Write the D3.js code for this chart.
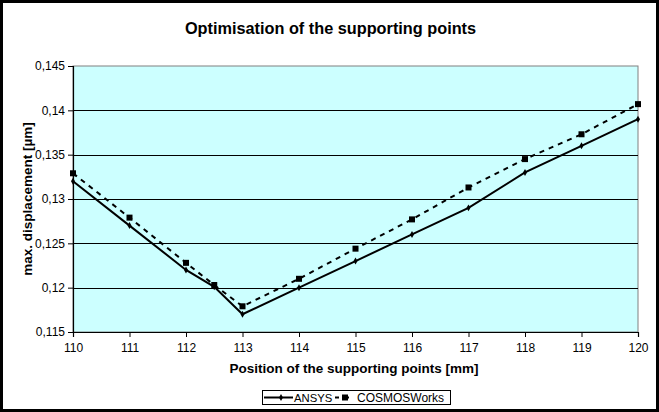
<!DOCTYPE html>
<html>
<head>
<meta charset="utf-8">
<script src="https://cdn.jsdelivr.net/npm/d3@7"></script>
<style>
  body { margin: 0; background: #fff; }
  text { font-family: Arial, "Liberation Sans", sans-serif; fill: #000; }
</style>
</head>
<body>
<svg id="chart" width="659" height="412"></svg>
<script>
const positions = [110, 111, 112, 112.5, 113, 114, 115, 116, 117, 118, 119, 120]
const ansys = [0.132, 0.127, 0.122, 0.1201, 0.117, 0.120, 0.123, 0.126, 0.129, 0.133, 0.136, 0.139]
const cosmos = [0.1329, 0.1279, 0.1228, 0.1203, 0.1179, 0.121, 0.1244, 0.1277, 0.1313, 0.1345, 0.1373, 0.1407]
const xTicks = [110, 111, 112, 113, 114, 115, 116, 117, 118, 119, 120]
const yTicks = [0.115, 0.12, 0.125, 0.13, 0.135, 0.14, 0.145]

const margin = { top: 66, right: 21, bottom: 80, left: 73 }
const width = 659
const height = 412

const svg = d3.select('#chart')

// outer frame
svg.append('rect')
  .attr('x', 1.5).attr('y', 1.5)
  .attr('width', width - 3).attr('height', height - 3)
  .attr('fill', '#fff')
  .attr('stroke', '#000')
  .attr('stroke-width', 3)

const xScale = d3.scaleLinear()
  .domain([110, 120])
  .range([margin.left, width - margin.right])

const yScale = d3.scaleLinear()
  .domain([0.115, 0.145])
  .range([height - margin.bottom, margin.top])

// plot area
svg.append('rect')
  .attr('x', xScale(110)).attr('y', yScale(0.145))
  .attr('width', xScale(120) - xScale(110))
  .attr('height', yScale(0.115) - yScale(0.145))
  .attr('fill', '#ccffff')
  .attr('stroke', '#808080')
  .attr('stroke-width', 1)

// gridlines
svg.append('g')
  .selectAll('line')
  .data(yTicks.slice(1, -1))
  .join('line')
  .attr('x1', xScale(110)).attr('x2', xScale(120))
  .attr('y1', d => Math.round(yScale(d)) + 0.5)
  .attr('y2', d => Math.round(yScale(d)) + 0.5)
  .attr('stroke', '#000')
  .attr('stroke-width', 1)

const fmt = d => String(+d.toFixed(3)).replace('.', ',')

const leftAxis = d3.axisLeft(yScale)
  .tickValues(yTicks)
  .tickFormat(fmt)
  .tickSize(5)
  .tickPadding(3)

const bottomAxis = d3.axisBottom(xScale)
  .tickValues(xTicks)
  .tickFormat(d3.format('d'))
  .tickSize(5)
  .tickPadding(6)

svg.append('g')
  .attr('transform', `translate(${xScale(110)}, 0)`)
  .call(leftAxis)

svg.append('g')
  .attr('transform', `translate(0, ${yScale(0.115)})`)
  .call(bottomAxis)

svg.selectAll('.domain').attr('stroke', '#000').attr('stroke-width', 1.2)
svg.selectAll('.tick line').attr('stroke', '#000')
svg.selectAll('.tick text')
  .style('font-family', 'Arial, "Liberation Sans", sans-serif')
  .style('font-size', '12px')

// lines
const linegen = values => d3.line()
  .x((d, i) => xScale(positions[i]))
  .y(d => yScale(d))(values)

svg.append('path')
  .attr('d', linegen(cosmos))
  .attr('fill', 'none')
  .attr('stroke', '#000')
  .attr('stroke-width', 2)
  .attr('stroke-dasharray', '5,5')

svg.append('path')
  .attr('d', linegen(ansys))
  .attr('fill', 'none')
  .attr('stroke', '#000')
  .attr('stroke-width', 2)

// markers
svg.append('g')
  .selectAll('rect')
  .data(cosmos)
  .join('rect')
  .attr('x', (d, i) => xScale(positions[i]) - 3)
  .attr('y', d => yScale(d) - 3)
  .attr('width', 6).attr('height', 6)
  .attr('fill', '#000')

const diamond = d3.symbol().type(d3.symbolDiamond).size(14)
svg.append('g')
  .selectAll('path')
  .data(ansys)
  .join('path')
  .attr('d', diamond)
  .attr('transform', (d, i) => `translate(${xScale(positions[i])}, ${yScale(d)})`)
  .attr('fill', '#000')

// titles
svg.append('text')
  .text('Optimisation of the supporting points')
  .attr('x', 330.5).attr('y', 34)
  .attr('text-anchor', 'middle')
  .style('font-size', '16.3px')
  .style('font-weight', 'bold')

svg.append('text')
  .text('Position of the supporting points [mm]')
  .attr('x', 354).attr('y', 373)
  .attr('text-anchor', 'middle')
  .style('font-size', '13.5px')
  .style('font-weight', 'bold')

svg.append('text')
  .text('max. displacement [µm]')
  .attr('transform', `translate(32, 199) rotate(-90)`)
  .attr('text-anchor', 'middle')
  .style('font-size', '13.5px')
  .style('font-weight', 'bold')

// legend
const legend = svg.append('g')
legend.append('rect')
  .attr('x', 262.5).attr('y', 390.5)
  .attr('width', 188).attr('height', 14)
  .attr('fill', '#fff')
  .attr('stroke', '#000')
  .attr('stroke-width', 1)

legend.append('line')
  .attr('x1', 264).attr('x2', 293).attr('y1', 397.5).attr('y2', 397.5)
  .attr('stroke', '#000').attr('stroke-width', 2)
legend.append('path')
  .attr('d', diamond)
  .attr('transform', 'translate(281, 397.5)')
legend.append('text')
  .text('ANSYS')
  .attr('x', 294).attr('y', 402)
  .style('font-size', '11.3px')

legend.append('line')
  .attr('x1', 335).attr('x2', 355).attr('y1', 397.5).attr('y2', 397.5)
  .attr('stroke', '#000').attr('stroke-width', 2)
  .attr('stroke-dasharray', '4,6')
legend.append('rect')
  .attr('x', 342).attr('y', 394.5).attr('width', 6).attr('height', 6)
legend.append('text')
  .text('COSMOSWorks')
  .attr('x', 357).attr('y', 402)
  .style('font-size', '12px')
</script>
</body>
</html>
